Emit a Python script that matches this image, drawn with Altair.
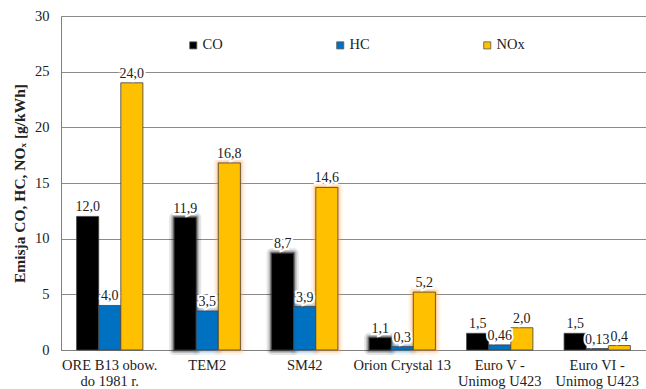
import altair as alt
import pandas as pd

categories = ["ORE B13 obow.\ndo 1981 r.", "TEM2", "SM42", "Orion Crystal 13",
              "Euro V -\nUnimog U423", "Euro VI -\nUnimog U423"]
series = ["CO", "HC", "NOx"]
co = [12.0, 11.9, 8.7, 1.1, 1.5, 1.5]
hc = [4.0, 3.5, 3.9, 0.3, 0.46, 0.13]
nox = [24.0, 16.8, 14.6, 5.2, 2.0, 0.4]
co_lbl = ["12,0", "11,9", "8,7", "1,1", "1,5", "1,5"]
hc_lbl = ["4,0", "3,5", "3,9", "0,3", "0,46", "0,13"]
nox_lbl = ["24,0", "16,8", "14,6", "5,2", "2,0", "0,4"]
glow = [False, True, True, True, False, False]
colors = ["#000000", "#0070C0", "#FFC000"]
glow_colors = ["#000000", "#4a90d0", "#FFA040"]

rows = []
for s, vals, lbls in zip(series, [co, hc, nox], [co_lbl, hc_lbl, nox_lbl]):
    for c, v, l, g in zip(categories, vals, lbls, glow):
        rows.append({"cat": c, "series": s, "value": v, "label": l, "glow": g})
df = pd.DataFrame(rows)

FONT = "Times New Roman, Liberation Serif, serif"
FS = 14.5

x = alt.X("cat:N", sort=categories, title=None,
          scale=alt.Scale(paddingInner=0.32, paddingOuter=0.16),
          axis=alt.Axis(labelAngle=0, labelFont=FONT, labelFontSize=FS, labelColor="#222222",
                        labelExpr="split(datum.label, '\\n')", labelLineHeight=16,
                        labelPadding=8, ticks=False, domainColor="#808080",
                        labelBaseline="top", grid=False))
xo = alt.XOffset("series:N", sort=series)
y = alt.Y("value:Q", title="Emisja CO, HC, NOₓ [g/kWh]",
          scale=alt.Scale(domain=[0, 30], nice=False),
          axis=alt.Axis(values=[0, 5, 10, 15, 20, 25, 30], labelFont=FONT, labelFontSize=FS,
                        labelColor="#222222", labelPadding=12, ticks=False,
                        domainColor="#808080", gridColor="#8a8a8a", gridWidth=1,
                        titleFont=FONT, titleFontSize=15.5, titleFontWeight="bold",
                        titleColor="#222222", titlePadding=7))
color = alt.Color("series:N", sort=series,
                  scale=alt.Scale(domain=series, range=colors),
                  legend=alt.Legend(title=None, orient="none", legendX=125, legendY=22,
                                    direction="horizontal", columns=3, gridAlign="all",
                                    columnPadding=102, symbolType="square", symbolSize=50,
                                    symbolStrokeColor="#555555", symbolStrokeWidth=0.8,
                                    labelFont=FONT, labelFontSize=FS, labelColor="#222222",
                                    labelOffset=2, symbolOpacity=1))

base = alt.Chart(df)

layers = []
for s, gc in zip(series, glow_colors):
    sub = base.transform_filter(f"datum.glow && datum.series == '{s}'")
    for w, op in [(10, 0.10), (6, 0.18), (3, 0.35)]:
        layers.append(sub.mark_bar(fillOpacity=0, stroke=gc, strokeWidth=w,
                                   strokeOpacity=op, strokeJoin="round").encode(
            x=x, xOffset=xo, y=y))

bars = base.mark_bar(stroke="#404040", strokeWidth=0.8, opacity=1).encode(
    x=x, xOffset=xo, y=y, color=color)

halo = base.mark_text(baseline="bottom", dy=-2, font=FONT, fontSize=14,
                      stroke="white", strokeWidth=4, fill="white").encode(
    x=x, xOffset=xo, y=y, text="label:N")
labels = base.mark_text(baseline="bottom", dy=-2, font=FONT, fontSize=14,
                        color="#222222").encode(
    x=x, xOffset=xo, y=y, text="label:N")

chart = alt.layer(*layers, bars, halo, labels).properties(
    width=585, height=334,
    padding={"left": 61, "top": 16, "right": 0, "bottom": 39},
    autosize=alt.AutoSizeParams(type="none"),
).configure_view(stroke=None).configure(background="white")

chart.save("out.html", embed_options={"renderer": "svg", "actions": False})
